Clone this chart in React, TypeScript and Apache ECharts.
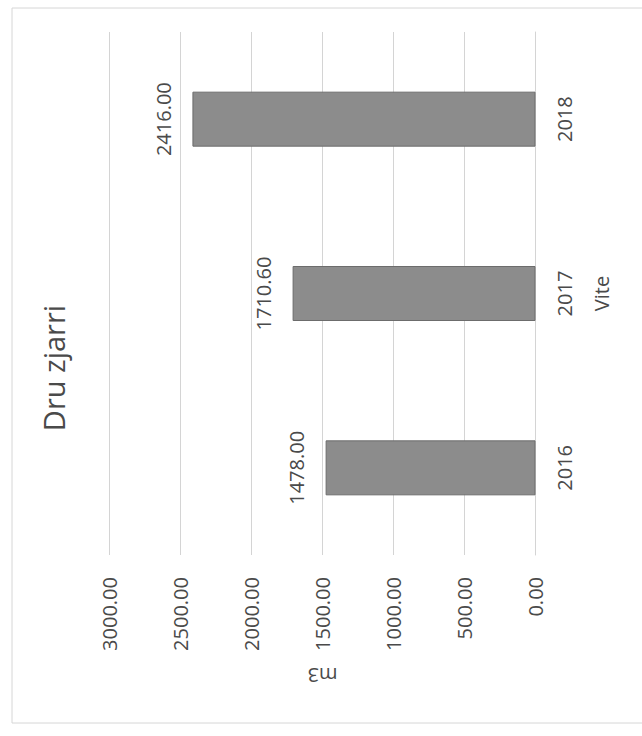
import React, { useEffect, useRef } from "react";
import * as echarts from "echarts";

// Firewood volume per year (m3)
const categories = ["2016", "2017", "2018"];
const volumes = [1478.0, 1710.6, 2416.0];
const valueTicks = { min: 0, max: 3000, interval: 500 };

const chartTitle = "Dru zjarri";
const categoryAxisName = "Vite";
const valueAxisName = "m3";

const FONT = "'Open Sans', 'Noto Sans', sans-serif";
const TEXT = "#4a4a4a";
const GRID = "#d4d4d4";

// The column chart is laid out upright (736 x 642) and the whole sheet is
// turned a quarter-turn counter-clockwise to fill the 642 x 736 page.
const SHEET_W = 736;
const SHEET_H = 642;

export default function App() {
  const ref = useRef<HTMLDivElement>(null);

  useEffect(() => {
    if (!ref.current) return;
    const chart = echarts.init(ref.current, undefined, { renderer: "svg" });
    chart.setOption({
      animation: false,
      backgroundColor: "#ffffff",
      textStyle: { fontFamily: FONT },
      title: {
        text: chartTitle,
        left: "center",
        top: 39,
        padding: 0,
        textStyle: {
          fontFamily: FONT,
          fontSize: 29,
          fontWeight: "normal",
          color: TEXT,
        },
      },
      graphic: [
        {
          type: "rect",
          silent: true,
          shape: { x: 13, y: 12, width: 715, height: 640 },
          style: { fill: "none", stroke: "#d6d6d6", lineWidth: 1 },
        },
      ],
      grid: { left: 181, right: 32, top: 109.5, bottom: 106.5 },
      xAxis: {
        type: "category",
        data: categories,
        name: categoryAxisName,
        nameLocation: "middle",
        nameGap: 56,
        nameTextStyle: { fontFamily: FONT, fontSize: 20, color: TEXT },
        axisLine: { show: true, lineStyle: { color: GRID, width: 1 } },
        axisTick: { show: false },
        axisLabel: {
          margin: 19,
          fontFamily: FONT,
          fontSize: 20,
          color: TEXT,
        },
      },
      yAxis: {
        type: "value",
        min: valueTicks.min,
        max: valueTicks.max,
        interval: valueTicks.interval,
        name: valueAxisName,
        nameLocation: "middle",
        nameRotate: 90,
        nameGap: 110,
        nameTextStyle: { fontFamily: FONT, fontSize: 20, color: TEXT },
        axisLine: { show: false },
        axisTick: { show: false },
        splitLine: { lineStyle: { color: GRID, width: 1 } },
        axisLabel: {
          margin: 22,
          fontFamily: FONT,
          fontSize: 20,
          color: TEXT,
          formatter: (v: number) => v.toFixed(2),
        },
      },
      series: [
        {
          type: "bar",
          data: volumes,
          barWidth: 55,
          itemStyle: {
            color: "#8c8c8c",
            borderColor: "#6c6c6c",
            borderWidth: 1,
          },
          label: {
            show: true,
            position: "top",
            distance: 19,
            fontFamily: FONT,
            fontSize: 20,
            color: TEXT,
            formatter: (p: { value: number }) => Number(p.value).toFixed(2),
          },
        },
      ],
    });
    return () => chart.dispose();
  }, []);

  return (
    <div
      style={{
        position: "fixed",
        left: 0,
        top: 0,
        width: SHEET_H,
        height: SHEET_W,
        overflow: "hidden",
        background: "#ffffff",
      }}
    >
      <div
        ref={ref}
        style={{
          position: "absolute",
          width: SHEET_W,
          height: SHEET_H,
          left: (SHEET_H - SHEET_W) / 2,
          top: (SHEET_W - SHEET_H) / 2,
          transform: "rotate(-90deg)",
        }}
      />
    </div>
  );
}
